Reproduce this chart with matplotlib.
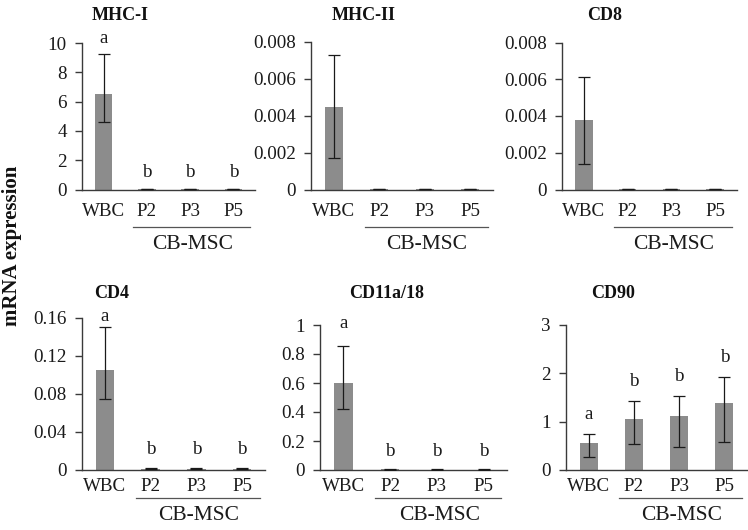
import matplotlib
matplotlib.use("Agg")
import matplotlib.pyplot as plt
import matplotlib.transforms as mtransforms
from matplotlib.ticker import FuncFormatter

# ---------------- data ----------------
categories = ["WBC", "P2", "P3", "P5"]
group_label = "CB-MSC"
y_label = "mRNA expression"

titles = ["MHC-I", "MHC-II", "CD8", "CD4", "CD11a/18", "CD90"]

mhc1_mean = [6.5, 0.03, 0.03, 0.03]
mhc1_err_lo = [1.92, 0.02, 0.02, 0.02]
mhc1_err_hi = [2.76, 0.02, 0.02, 0.02]

mhc2_mean = [0.0045, 0.00003, 0.00003, 0.00003]
mhc2_err_lo = [0.0028, 0.00002, 0.00002, 0.00002]
mhc2_err_hi = [0.0028, 0.00002, 0.00002, 0.00002]

cd8_mean = [0.0038, 0.00003, 0.00003, 0.00003]
cd8_err_lo = [0.0024, 0.00002, 0.00002, 0.00002]
cd8_err_hi = [0.0023, 0.00002, 0.00002, 0.00002]

cd4_mean = [0.105, 0.0008, 0.0007, 0.0008]
cd4_err_lo = [0.031, 0.0004, 0.0004, 0.0004]
cd4_err_hi = [0.045, 0.0004, 0.0004, 0.0004]

cd11_mean = [0.60, 0.004, 0.003, 0.003]
cd11_err_lo = [0.177, 0.002, 0.002, 0.002]
cd11_err_hi = [0.255, 0.002, 0.002, 0.002]

cd90_mean = [0.56, 1.05, 1.11, 1.39]
cd90_err_lo = [0.29, 0.52, 0.64, 0.82]
cd90_err_hi = [0.19, 0.37, 0.42, 0.52]

letters_mhc1 = ["a", "b", "b", "b"]
letters_mhc2 = ["", "", "", ""]
letters_cd8 = ["", "", "", ""]
letters_cd4 = ["a", "b", "b", "b"]
letters_cd11 = ["a", "b", "b", "b"]
letters_cd90 = ["a", "b", "b", "b"]

yticks_mhc1 = [0, 2, 4, 6, 8, 10]
yticks_mhc2 = [0, 0.002, 0.004, 0.006, 0.008]
yticks_cd8 = [0, 0.002, 0.004, 0.006, 0.008]
yticks_cd4 = [0, 0.04, 0.08, 0.12, 0.16]
yticks_cd11 = [0, 0.2, 0.4, 0.6, 0.8, 1]
yticks_cd90 = [0, 1, 2, 3]

panels = [
    (titles[0], mhc1_mean, mhc1_err_lo, mhc1_err_hi, letters_mhc1, yticks_mhc1),
    (titles[1], mhc2_mean, mhc2_err_lo, mhc2_err_hi, letters_mhc2, yticks_mhc2),
    (titles[2], cd8_mean, cd8_err_lo, cd8_err_hi, letters_cd8, yticks_cd8),
    (titles[3], cd4_mean, cd4_err_lo, cd4_err_hi, letters_cd4, yticks_cd4),
    (titles[4], cd11_mean, cd11_err_lo, cd11_err_hi, letters_cd11, yticks_cd11),
    (titles[5], cd90_mean, cd90_err_lo, cd90_err_hi, letters_cd90, yticks_cd90),
]

# ---------------- layout (pixels) ----------------
W, H = 748, 530
# x_left, x_right, y_zero, y_top, title_x, title_y, row
layout = [
    (82, 255, 189.5, 43.0, 120, 16, 0),
    (311, 493, 189.5, 42.0, 364, 16, 0),
    (562, 737, 189.5, 42.5, 605, 16, 0),
    (82, 265, 469.5, 318.0, 112, 293, 1),
    (320, 507, 470.0, 325.0, 387, 293, 1),
    (566, 747, 470.0, 324.5, 613, 293, 1),
]
# row settings: tick pad (pt), underline offset (px), group label offset (px)
row_cfg = {0: (9.5, 37.0, 55.0), 1: (6.0, 28.0, 46.0)}
letter_offsets = [
    [11, 12, 12, 12],
    [0, 0, 0, 0],
    [0, 0, 0, 0],
    [6, 14, 14, 14],
    [18, 13, 13, 13],
    [15, 15, 15, 15],
]

SERIF = ["Liberation Serif", "DejaVu Serif"]
plt.rcParams["font.family"] = SERIF
BAR_COLOR = "#8c8c8c"
AX_COLOR = "#3a3a3a"

fig = plt.figure(figsize=(W / 100, H / 100), dpi=100)

xpos = list(range(len(categories)))

for (title, mean, elo, ehi, letters, yticks), lay, loffs in zip(panels, layout, letter_offsets):
    x0, x1, yz, yt, tx, ty, row = lay
    rect = [x0 / W, (H - yz) / H, (x1 - x0) / W, (yz - yt) / H]
    ax = fig.add_axes(rect)
    ax.bar(xpos, mean, width=0.4, color=BAR_COLOR, zorder=2)
    ax.errorbar(xpos, mean, yerr=[elo, ehi], fmt="none", ecolor="#1a1a1a",
                elinewidth=0.9, capsize=4.5, capthick=0.9, zorder=3)
    ax.set_xlim(-0.5, 3.5)
    ax.set_ylim(0, yticks[-1])
    ax.set_yticks(yticks)
    ax.yaxis.set_major_formatter(FuncFormatter(lambda v, p: "%g" % v))
    ax.set_xticks(xpos)
    ax.set_xticklabels(categories)
    tick_pad, line_off, grp_off = row_cfg[row]
    ax.tick_params(axis="x", length=0, pad=tick_pad, labelsize=13.7, colors="#1a1a1a")
    ax.tick_params(axis="y", length=5, width=1, direction="out", pad=6,
                   labelsize=13.7, colors="#1a1a1a")
    ax.tick_params(axis="y", color=AX_COLOR)
    for s in ["top", "right"]:
        ax.spines[s].set_visible(False)
    for s in ["left", "bottom"]:
        ax.spines[s].set_color(AX_COLOR)
        ax.spines[s].set_linewidth(1.0)

    # significance letters
    for xi, m, e, lt, off in zip(xpos, mean, ehi, letters, loffs):
        if lt:
            ax.annotate(lt, xy=(xi, m + e), xytext=(0, off * 0.72),
                        textcoords="offset points", ha="center", va="baseline",
                        fontsize=13.7, color="#1a1a1a", annotation_clip=False)

    # group underline + label
    trans = ax.get_xaxis_transform()
    t_line = mtransforms.offset_copy(trans, fig=fig, y=-line_off, units="dots")
    ax.plot([0.68, 3.38], [0, 0], transform=t_line, color="#555555", lw=0.9,
            clip_on=False)
    t_grp = mtransforms.offset_copy(trans, fig=fig, y=-grp_off, units="dots")
    ax.text(2.05, 0, group_label, transform=t_grp, ha="center", va="center",
            fontsize=15.5, color="#1a1a1a")

    fig.text(tx / W, (H - ty) / H, title, ha="center", va="center",
             fontsize=13, fontweight="bold", color="#111111")

fig.text(12 / W, (H - 246) / H, y_label, rotation=90, ha="center", va="center",
         fontsize=15, fontweight="bold", color="#111111")

fig.savefig("out.png", dpi=100, facecolor="white")
